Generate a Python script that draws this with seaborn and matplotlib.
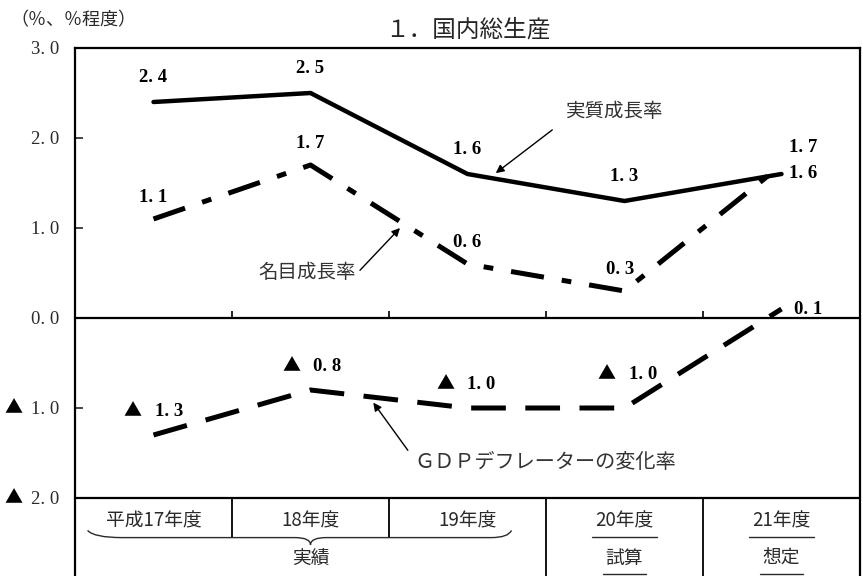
import numpy as np
import pandas as pd
import matplotlib
matplotlib.use("Agg")
import matplotlib.pyplot as plt
import matplotlib.transforms as mtrans
import seaborn as sns
from matplotlib.path import Path
from matplotlib.patches import PathPatch

# ---------------- data ----------------
years = ["平成17年度", "18年度", "19年度", "20年度", "21年度"]
groups = ["実績", "試算", "想定"]
real = [2.4, 2.5, 1.6, 1.3, 1.6]
nominal = [1.1, 1.7, 0.6, 0.3, 1.7]
deflator = [-1.3, -0.8, -1.0, -1.0, 0.1]
yticks = [3, 2, 1, 0, -1, -2]
title = "１．国内総生産"
unit = "（％、％程度）"
names = ["実質成長率", "名目成長率", "ＧＤＰデフレーターの変化率"]
NEG = "▲"


def num(v):
    return f"{abs(v):.1f}".replace(".", ". ")


# ---------------- style ----------------
sns.set_style("white")
plt.rcParams["font.family"] = ["Noto Sans CJK JP", "DejaVu Sans"]
plt.rcParams["lines.scale_dashes"] = False
SERIF = ["Liberation Serif", "Noto Sans CJK JP", "DejaVu Sans"]
TXT = "#2a2a2a"

fig = plt.figure(figsize=(8.63, 5.76), dpi=100)
ax = fig.add_axes([75 / 863, 0, 785 / 863, 528 / 576])

pos = np.arange(len(years)) + 0.5
df = pd.DataFrame({"pos": pos, "real": real, "nominal": nominal, "deflator": deflator})

sns.lineplot(data=df, x="pos", y="real", ax=ax, color="black", linewidth=3.2)
sns.lineplot(data=df, x="pos", y="nominal", ax=ax, color="black", linewidth=3.6,
             linestyle=(0, (24, 13, 7, 13)))
sns.lineplot(data=df, x="pos", y="deflator", ax=ax, color="black", linewidth=3.6,
             linestyle=(0, (25, 14)))

ybot = -2 - 78 / 90
ax.set_xlim(0, 5)
ax.set_ylim(ybot, 3)
ax.set_xlabel("")
ax.set_ylabel("")
ax.set_xticks([])
ax.set_yticks(yticks)
ax.set_yticklabels([num(v) for v in yticks])
for lab in ax.get_yticklabels():
    lab.set_fontfamily(SERIF)
    lab.set_fontsize(13.5)
    lab.set_color(TXT)
ax.tick_params(axis="y", direction="in", length=6, width=1.2, pad=11, left=True)
# negative marks in front of tick labels
ylab_tr = mtrans.blended_transform_factory(fig.transFigure, ax.transData)
for v in yticks:
    if v < 0:
        ax.text(4 / 863, v, NEG, transform=ylab_tr, ha="left", va="center",
                fontsize=13, fontfamily=["Noto Sans CJK JP"], color="black")

for side in ["left", "top", "right"]:
    ax.spines[side].set_color("black")
    ax.spines[side].set_linewidth(1.6)
ax.spines["bottom"].set_visible(False)

# zero line, table line and small ticks
ax.axhline(0, color="black", lw=1.6)
ax.axhline(-2, color="black", lw=1.6)
ax.vlines([1, 2, 3, 4], 0, 0.08, color="black", lw=1.2)

# table separators
ax.vlines([1, 2], -2, -2.43, color="black", lw=1.3)
ax.vlines([3, 4], -2, ybot, color="black", lw=1.3)

# table text
for p, t in zip(pos, years):
    ax.text(p, -2.26, t, ha="center", va="center", fontsize=13.5, color=TXT)
for p, t in zip([1.5, 3.5, 4.5], groups):
    ax.text(p, -2.67, t, ha="center", va="center", fontsize=13.5, color=TXT)
# underlines for estimates
for p in [3.5, 4.5]:
    ax.plot([p - 0.21, p + 0.21], [-2.43, -2.43], color=TXT, lw=1.0)
    ax.plot([p - 0.14, p + 0.14], [-2.84, -2.84], color=TXT, lw=1.0)

# brace under 実績
verts = [(0.08, -2.36), (0.12, -2.44), (0.3, -2.44),
         (1.4, -2.44),
         (1.5, -2.44), (1.5, -2.52),
         (1.5, -2.44), (1.6, -2.44),
         (2.65, -2.44),
         (2.76, -2.44), (2.78, -2.36)]
codes = [Path.MOVETO, Path.CURVE3, Path.CURVE3,
         Path.LINETO,
         Path.CURVE3, Path.CURVE3,
         Path.CURVE3, Path.CURVE3,
         Path.LINETO,
         Path.CURVE3, Path.CURVE3]
ax.add_patch(PathPatch(Path(verts, codes), fill=False, edgecolor=TXT, lw=1.0))

# data labels
lab_kw = dict(fontfamily=SERIF, fontsize=13.5, fontweight="bold", color="black")
for i, (p, v) in enumerate(zip(pos, real)):
    if i < 4:
        ax.text(p, v + 0.27, num(v), ha="center", va="center", **lab_kw)
    else:
        ax.text(p + 0.05, v, num(v), ha="left", va="center", **lab_kw)
for i, (p, v) in enumerate(zip(pos, nominal)):
    if i < 4:
        ax.text(p - (0.03 if i == 3 else 0), v + 0.24, num(v), ha="center", va="center", **lab_kw)
    else:
        ax.text(p + 0.05, v + 0.19, num(v), ha="left", va="center", **lab_kw)
defl_off = [(-0.19, 0.26), (-0.18, 0.26), (-0.20, 0.26), (-0.17, 0.37), (0.08, 0.0)]
num_shift = mtrans.offset_copy(ax.transData, fig=fig, x=31, y=0, units="dots")
for (p, v), (dx, dy) in zip(zip(pos, deflator), defl_off):
    if v < 0:
        ax.text(p + dx, v + dy, NEG, ha="left", va="center", fontsize=13,
                fontfamily=["Noto Sans CJK JP"], color="black")
        ax.text(p + dx, v + dy, num(v), ha="left", va="center", transform=num_shift, **lab_kw)
    else:
        ax.text(p + dx, v + dy, num(v), ha="left", va="center", **lab_kw)

# annotations with arrows
arr = dict(arrowstyle="-|>", color="black", lw=1.0, mutation_scale=12, shrinkA=0, shrinkB=0)
ax.annotate("", xy=(2.68, 1.61), xytext=(3.04, 2.09), arrowprops=arr)
ax.text(3.44, 2.29, names[0], ha="center", va="center", fontsize=14, color="#333333")
ax.annotate("", xy=(2.07, 1.0), xytext=(1.815, 0.53), arrowprops=arr)
ax.text(1.48, 0.51, names[1], ha="center", va="center", fontsize=14, color="#333333")
ax.annotate("", xy=(1.90, -0.94), xytext=(2.12, -1.47), arrowprops=arr)
ax.text(2.16, -1.61, names[2], ha="left", va="center", fontsize=14.5, color="#333333")

# title and unit
fig.text(468 / 863, 1 - 30 / 576, title, ha="center", va="center", fontsize=17,
         fontfamily=["Noto Sans CJK JP", "DejaVu Sans"])
fig.text(10 / 863, 1 - 20 / 576, unit, ha="left", va="center", fontsize=13,
         fontfamily=["Noto Sans CJK JP", "DejaVu Sans"], color=TXT)

fig.savefig("out.png", dpi=100)
